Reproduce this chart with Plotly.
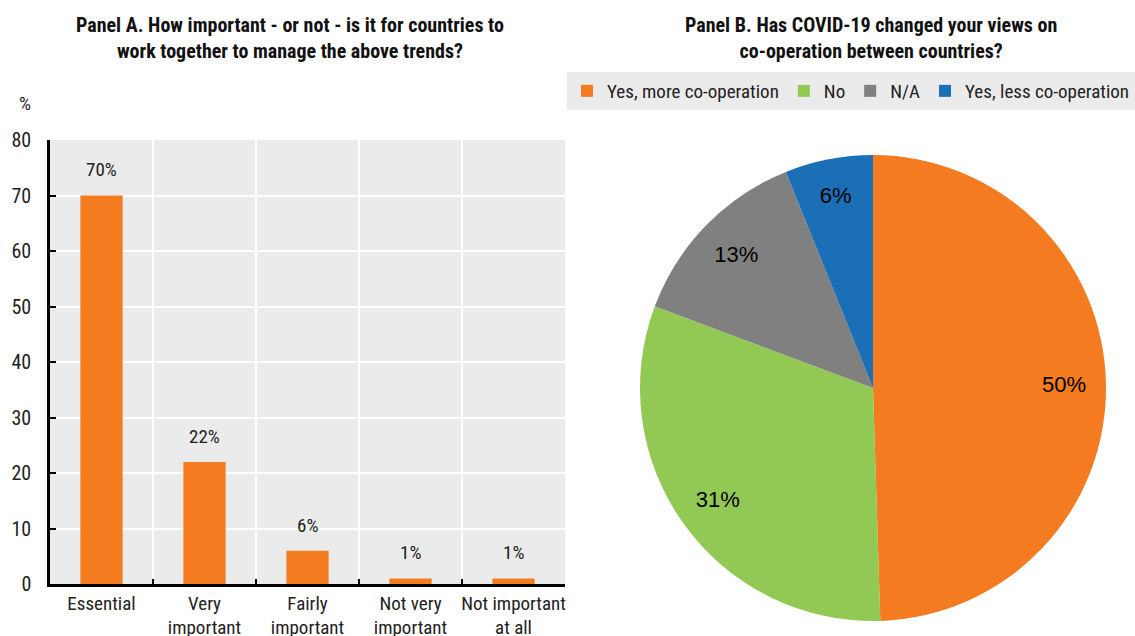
import plotly.graph_objects as go

# Panel A data
categories = ["Essential", "Very<br>important", "Fairly<br>important", "Not very<br>important", "Not important<br>at all"]
importance_pct = [70, 22, 6, 1, 1]
y_ticks = [0, 10, 20, 30, 40, 50, 60, 70, 80]

# Panel B data
pie_labels = ["Yes, more co-operation", "No", "N/A", "Yes, less co-operation"]
pie_values = [49.5, 31.2, 13.2, 6.1]
pie_colors = ["#F47B20", "#92C954", "#808080", "#1A6FB7"]

NARROW = "Liberation Sans Narrow, Arial Narrow, Roboto Condensed, DejaVu Sans Condensed, Arial, sans-serif"
REG = "Liberation Sans, Arial, sans-serif"
W, H = 1135, 636
pie_dom = dict(x=[640 / W, 1106 / W], y=[1 - 621 / H, 1 - 155 / H])

fig = go.Figure()

fig.add_trace(go.Bar(
    x=categories, y=importance_pct,
    marker=dict(color="#F47B20", line=dict(width=0)),
    width=0.41, showlegend=False, hoverinfo="x+y",
    xaxis="x", yaxis="y",
))

# main pie (colours + legend)
fig.add_trace(go.Pie(
    labels=pie_labels, values=pie_values, sort=False, direction="clockwise",
    rotation=0, marker=dict(colors=pie_colors, line=dict(width=0)),
    textinfo="none", domain=pie_dom, showlegend=True,
))
# transparent ring overlay to place the percentage labels further out
fig.add_trace(go.Pie(
    labels=pie_labels, values=pie_values, sort=False, direction="clockwise",
    rotation=0, hole=0.64,
    marker=dict(colors=["rgba(0,0,0,0)"] * len(pie_values), line=dict(width=0)),
    texttemplate="%{percent:.0%}", textposition="inside",
    insidetextorientation="horizontal",
    textfont=dict(family=REG, size=22, color="black"),
    domain=pie_dom, showlegend=False, hoverinfo="skip",
))

annotations = []
for c, v in zip(categories, importance_pct):
    annotations.append(dict(
        x=c, y=v, xref="x", yref="y", text=f"{v}%", showarrow=False,
        yanchor="bottom", yshift=12,
        font=dict(family=NARROW, size=19, color="#222"),
    ))

annotations += [
    dict(x=290 / W, y=1 - 11 / H, xref="paper", yref="paper", xanchor="center", yanchor="top",
         text="<b>Panel A. How important - or not - is it for countries to<br>work together to manage the above trends?</b>",
         showarrow=False, font=dict(family=NARROW, size=20, color="#111")),
    dict(x=871 / W, y=1 - 11 / H, xref="paper", yref="paper", xanchor="center", yanchor="top",
         text="<b>Panel B. Has COVID-19 changed your views on<br>co-operation between countries?</b>",
         showarrow=False, font=dict(family=NARROW, size=20, color="#111")),
    dict(x=25 / W, y=1 - 103 / H, xref="paper", yref="paper", xanchor="center", yanchor="middle",
         text="%", showarrow=False, font=dict(family=NARROW, size=19, color="#222")),
]

fig.update_layout(
    width=W, height=H,
    margin=dict(l=0, r=0, t=0, b=0, autoexpand=False),
    paper_bgcolor="white", plot_bgcolor="#EBEBEB",
    font=dict(family=NARROW, size=18, color="#222"),
    xaxis=dict(
        domain=[50 / W, 565 / W], anchor="y", type="category",
        tickson="boundaries", ticks="inside", ticklen=5, tickcolor="black", tickwidth=1.5,
        showgrid=True, gridcolor="white", gridwidth=2,
        showline=True, linecolor="black", linewidth=2.5,
        tickangle=0,
        tickfont=dict(family=NARROW, size=19, color="#222"),
        automargin=False, fixedrange=True,
    ),
    yaxis=dict(
        domain=[1 - 584 / H, 1 - 140 / H], anchor="x", range=[0, 80],
        tickvals=y_ticks, ticks="inside", ticklen=6, tickcolor="black", tickwidth=1.5,
        showgrid=True, gridcolor="white", gridwidth=2, zeroline=False,
        showline=True, linecolor="black", linewidth=2.5,
        tickfont=dict(family=NARROW, size=20, color="#222"),
        ticklabelstandoff=12,
        automargin=False, fixedrange=True,
    ),
    legend=dict(
        orientation="h", x=1, y=1 - 72 / H, xanchor="right", yanchor="top",
        bgcolor="#EBEBEB", font=dict(family=NARROW, size=19, color="#222"),
        itemwidth=30, traceorder="normal",
    ),
    annotations=annotations,
)

fig.write_html(
    "out.html",
    config={"displayModeBar": False},
    post_script="document.body.style.margin='0';document.body.style.overflow='hidden';",
)
